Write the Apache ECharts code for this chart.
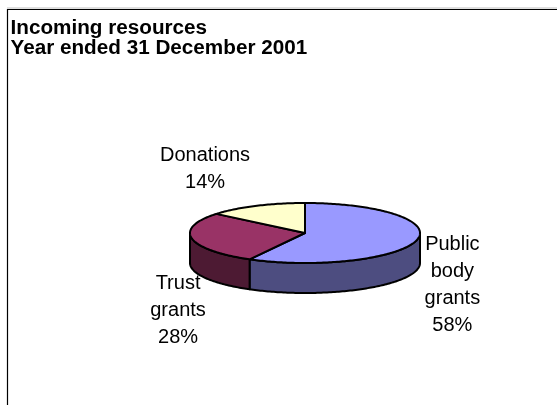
<!DOCTYPE html>
<html>
<head>
<meta charset="utf-8">
<script src="https://cdn.jsdelivr.net/npm/echarts@6/dist/echarts.min.js"></script>
<style>
  html, body { margin: 0; padding: 0; background: #fff; }
  #chart { width: 557px; height: 405px; }
</style>
</head>
<body>
<div id="chart"></div>
<script>
// Incoming resources by source, year ended 31 December 2001
const categories = ['Public body grants', 'Trust grants', 'Donations'];
const labelNames = ['Public\nbody\ngrants', 'Trust\ngrants', 'Donations'];
const values = [58, 28, 14];

const topColors = ['#9999FF', '#993366', '#FFFFCC'];
const sideColors = ['#4D4D80', '#4D1A33', '#808066'];

// geometry of the tilted pie (ellipse top face + visible front wall)
const CX = 305, CY = 233, RX = 115, RY = 30, DEPTH = 30;
// label placement relative to the slice's outer edge at its mid-angle
const labelOffsets = [[36, 44.5], [-14, 72], [-51, -37]];
const FONT = '"Liberation Sans", Arial, Helvetica, sans-serif';

const total = values.reduce((a, b) => a + b, 0);
const starts = [];
let acc = 0;
values.forEach(v => { starts.push(acc / total * 360); acc += v; });

// angle measured clockwise from 12 o'clock
function pt(deg, dy) {
  const r = deg * Math.PI / 180;
  return [CX + RX * Math.sin(r), CY - RY * Math.cos(r) + (dy || 0)];
}
function arc(a0, a1, dy) {
  const n = Math.max(2, Math.ceil(Math.abs(a1 - a0)));
  const out = [];
  for (let i = 0; i <= n; i++) out.push(pt(a0 + (a1 - a0) * i / n, dy));
  return out;
}

function renderSlice(params, api) {
  const i = params.dataIndex;
  const v = api.value(0);
  const a0 = starts[i];
  const a1 = a0 + v / total * 360;
  const children = [];
  const edge = { stroke: '#000', lineWidth: 2, lineJoin: 'round' };

  // front wall: only the part of the rim facing the viewer (90°..270°)
  const s0 = Math.max(a0, 90), s1 = Math.min(a1, 270);
  if (s1 > s0) {
    const upper = arc(s0, s1, 0);
    const lower = arc(s1, s0, DEPTH);
    children.push({
      type: 'polygon',
      shape: { points: upper.concat(lower) },
      style: Object.assign({ fill: sideColors[i] }, edge)
    });
  }

  // top face
  children.push({
    type: 'polygon',
    shape: { points: [[CX, CY]].concat(arc(a0, a1, 0)) },
    style: Object.assign({ fill: topColors[i] }, edge)
  });

  // category + percentage label
  const mid = (a0 + a1) / 2;
  const e = pt(mid, 0);
  children.push({
    type: 'text',
    x: e[0] + labelOffsets[i][0],
    y: e[1] + labelOffsets[i][1],
    style: {
      text: labelNames[i] + '\n' + Math.round(v / total * 100) + '%',
      fill: '#000',
      fontSize: 20,
      fontFamily: FONT,
      align: 'center',
      verticalAlign: 'middle',
      lineHeight: 27
    }
  });

  return { type: 'group', children: children };
}

const chart = echarts.init(document.getElementById('chart'), null, { renderer: 'canvas' });
chart.setOption({
  animation: false,
  backgroundColor: '#fff',
  title: {
    text: 'Incoming resources\nYear ended 31 December 2001',
    left: 10.5,
    top: 18,
    padding: 0,
    textStyle: {
      fontFamily: FONT,
      fontSize: 20.7,
      fontWeight: 'bold',
      lineHeight: 20.5,
      color: '#000'
    }
  },
  graphic: [
    { type: 'rect', shape: { x: 7, y: 7.5, width: 560, height: 1 }, style: { fill: '#c0c0c0' }, silent: true },
    { type: 'rect', shape: { x: 7.5, y: 9.5, width: 600, height: 500 }, style: { fill: 'none', stroke: '#000', lineWidth: 1.2 }, silent: true }
  ],
  series: [{
    type: 'custom',
    coordinateSystem: 'none',
    renderItem: renderSlice,
    data: values.map((v, i) => ({ name: categories[i], value: [v] }))
  }]
});
</script>
</body>
</html>
